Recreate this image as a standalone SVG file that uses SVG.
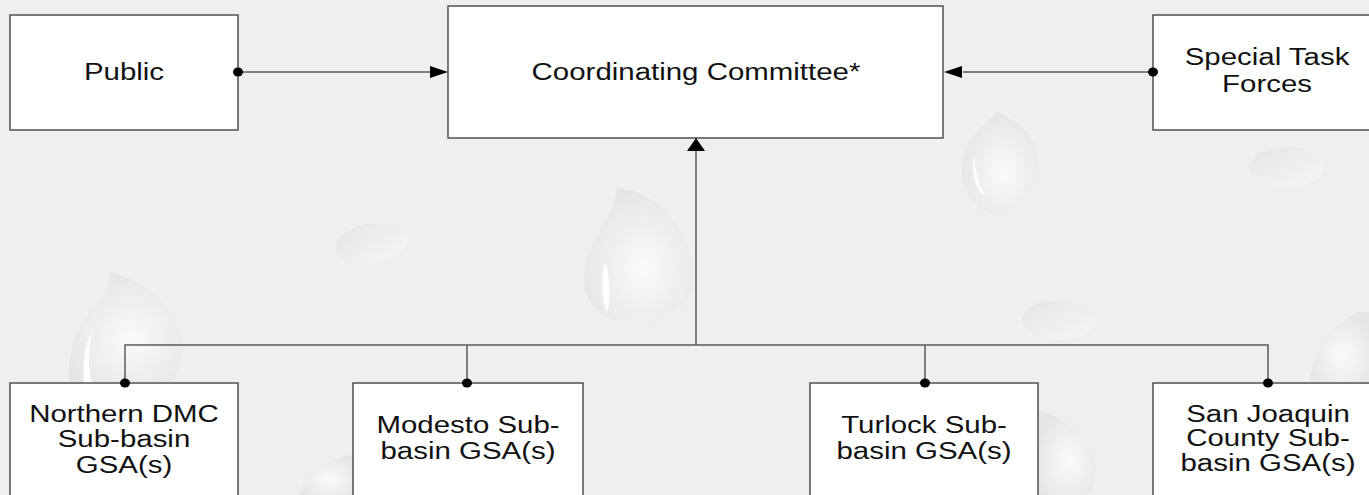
<svg xmlns="http://www.w3.org/2000/svg" width="1369" height="495" viewBox="0 0 1369 495">
<defs>
<radialGradient id="dropG" cx="0.55" cy="0.6" r="0.6">
<stop offset="0" stop-color="#fbfbfb"/>
<stop offset="1" stop-color="#e5e5e5"/>
</radialGradient>
<linearGradient id="pebG" x1="0" y1="0" x2="1" y2="1">
<stop offset="0" stop-color="#e4e4e4"/>
<stop offset="1" stop-color="#f7f7f7"/>
</linearGradient>
</defs>
<style>
.box{fill:#ffffff;stroke:#505050;stroke-width:1.5}
.ln{fill:none;stroke:#5a5a5a;stroke-width:1.5}
.dot{fill:#000}
.arr{fill:#000}
.t{font-family:"Liberation Sans",Arial,sans-serif;font-size:23px;fill:#111;text-anchor:middle}
.drop{fill:url(#dropG)}
.peb{fill:url(#pebG)}
.hl{fill:#ffffff}
</style>
<rect x="0" y="0" width="1369" height="495" fill="#efefef"/>
<g id="background-drops">
<path class="drop" d="M617,188 C670,192 700,250 691,290 C682,315 652,325 630,322 C596,320 580,300 585,268 C590,240 615,215 617,188 Z"/>
<path class="hl" d="M605,262 C610,275 611,300 607,312 C603,305 600,285 605,262 Z"/>
<path class="drop" d="M998,112 C1030,125 1042,150 1036,170 C1030,195 1012,213 997,214 C975,212 962,190 962,168 C962,140 985,125 998,112 Z"/>
<path class="hl" d="M974,156 C976,172 979,188 985,196 C978,192 971,178 974,156 Z"/>
<ellipse class="peb" cx="1287" cy="167" rx="37" ry="20"/>
<ellipse class="peb" cx="1059" cy="320" rx="37" ry="20"/>
<ellipse class="peb" cx="372" cy="243" rx="37" ry="20" transform="rotate(-10 372 243)"/>
<path class="drop" d="M1358,312 C1330,325 1310,355 1310,385 L1369,385 L1369,312 Z"/>
<path class="drop" d="M110,272 C150,282 182,315 182,345 C182,365 175,383 170,383 L70,383 C65,350 80,320 100,300 C108,292 110,282 110,272 Z"/>
<path class="hl" d="M92,330 C88,350 88,370 92,383 L84,383 C82,365 85,345 92,330 Z"/>
<path class="drop" d="M1040,410 C1070,420 1095,445 1095,470 C1095,485 1090,495 1088,495 L1038,495 L1038,410 Z"/>
<path class="drop" d="M353,455 C330,458 305,470 300,495 L353,495 Z"/>
</g>
<g id="node-public">
<rect class="box" x="10" y="15" width="228" height="115"/>
<text class="t" transform="translate(124 80) scale(1.28 1)">Public</text>
</g>
<g id="node-coordinating-committee">
<rect class="box" x="448" y="6" width="495" height="132"/>
<text class="t" transform="translate(696 80) scale(1.28 1)">Coordinating Committee*</text>
</g>
<g id="node-special-task-forces">
<rect class="box" x="1153" y="15" width="230" height="115"/>
<text class="t" transform="translate(1267 65) scale(1.28 1)">Special Task</text>
<text class="t" transform="translate(1267 92) scale(1.28 1)">Forces</text>
</g>
<g id="node-northern-dmc">
<rect class="box" x="10" y="383" width="228" height="130"/>
<text class="t" transform="translate(124 422) scale(1.28 1)">Northern DMC</text>
<text class="t" transform="translate(124 447) scale(1.28 1)">Sub-basin</text>
<text class="t" transform="translate(124 473) scale(1.28 1)">GSA(s)</text>
</g>
<g id="node-modesto">
<rect class="box" x="353" y="383" width="230" height="130"/>
<text class="t" transform="translate(468 433) scale(1.28 1)">Modesto Sub-</text>
<text class="t" transform="translate(468 459) scale(1.28 1)">basin GSA(s)</text>
</g>
<g id="node-turlock">
<rect class="box" x="810" y="383" width="228" height="130"/>
<text class="t" transform="translate(924 433) scale(1.28 1)">Turlock Sub-</text>
<text class="t" transform="translate(924 459) scale(1.28 1)">basin GSA(s)</text>
</g>
<g id="node-san-joaquin">
<rect class="box" x="1153" y="383" width="230" height="130"/>
<text class="t" transform="translate(1268 422) scale(1.28 1)">San Joaquin</text>
<text class="t" transform="translate(1268 446) scale(1.28 1)">County Sub-</text>
<text class="t" transform="translate(1268 471) scale(1.28 1)">basin GSA(s)</text>
</g>
<g id="connectors">
<line class="ln" x1="238" y1="72" x2="432" y2="72"/>
<polygon class="arr" points="430,66 448,72 430,78"/>
<ellipse class="dot" cx="238" cy="72" rx="5" ry="4.5"/>
<line class="ln" x1="963" y1="72" x2="1153" y2="72"/>
<polygon class="arr" points="962,66 944,72 962,78"/>
<ellipse class="dot" cx="1153" cy="72" rx="5" ry="4.5"/>
<line class="ln" x1="696" y1="150" x2="696" y2="345"/>
<polygon class="arr" points="687,151 696,138 705,151"/>
<polyline class="ln" points="125,383 125,345 1268,345 1268,383"/>
<line class="ln" x1="467" y1="345" x2="467" y2="383"/>
<line class="ln" x1="925" y1="345" x2="925" y2="383"/>
<ellipse class="dot" cx="125" cy="383" rx="5" ry="4.5"/>
<ellipse class="dot" cx="467" cy="383" rx="5" ry="4.5"/>
<ellipse class="dot" cx="925" cy="383" rx="5" ry="4.5"/>
<ellipse class="dot" cx="1268" cy="383" rx="5" ry="4.5"/>
</g>
</svg>
